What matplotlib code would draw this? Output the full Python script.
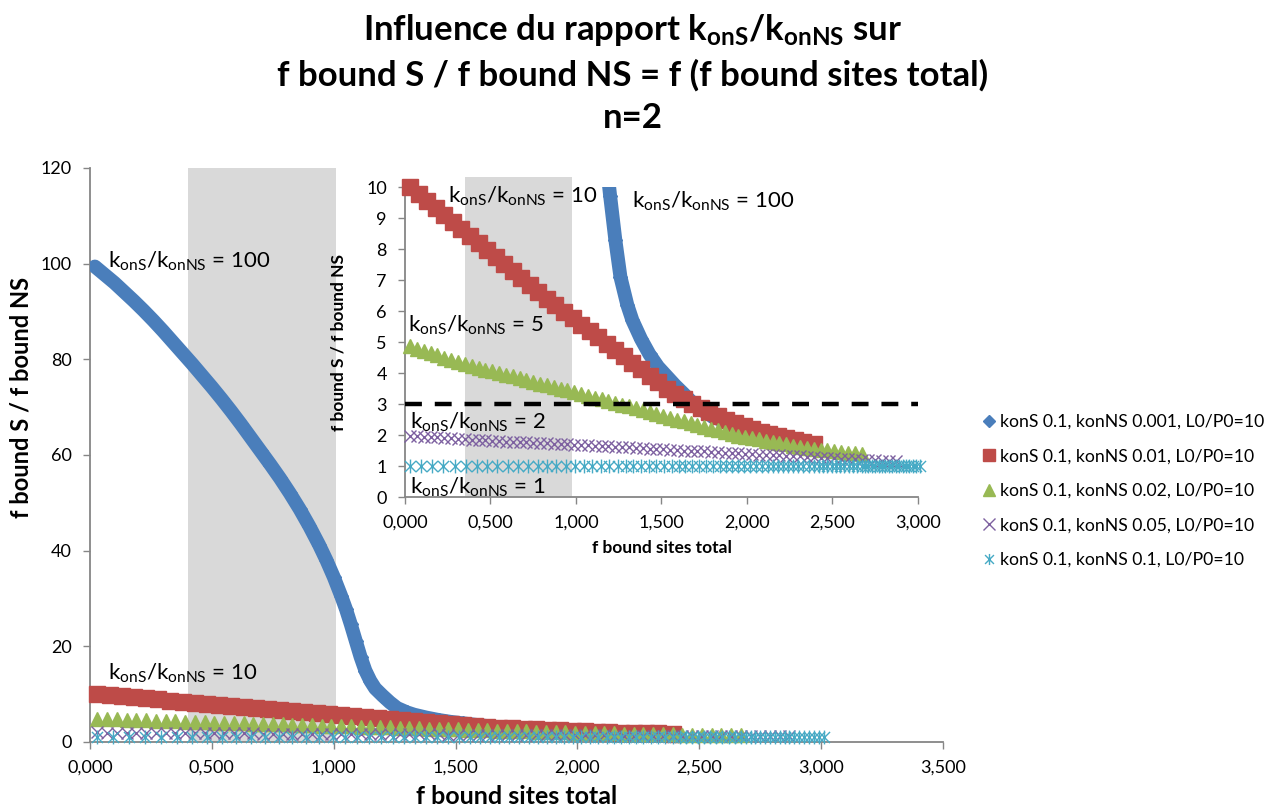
import matplotlib
matplotlib.use("Agg")
import matplotlib.pyplot as plt
from matplotlib.lines import Line2D
from matplotlib.patches import Rectangle
from matplotlib.path import Path
from matplotlib.ticker import FuncFormatter

plt.rcParams['font.family'] = ['Lato', 'DejaVu Sans']
plt.rcParams['mathtext.fontset'] = 'custom'
plt.rcParams['mathtext.rm'] = 'Lato'
plt.rcParams['mathtext.it'] = 'Lato:italic'
plt.rcParams['mathtext.bf'] = 'Lato:bold'

# ---- data ----
blue_x = [0.02, 0.06, 0.10, 0.14, 0.18, 0.22, 0.26, 0.30, 0.34, 0.38, 0.42, 0.46, 0.50, 0.54,
          0.58, 0.62, 0.66, 0.70, 0.74, 0.78, 0.82, 0.86, 0.90, 0.94, 0.97, 1.00, 1.03, 1.05,
          1.07, 1.09, 1.11, 1.13, 1.15, 1.17, 1.20, 1.23, 1.26, 1.30, 1.33, 1.38, 1.43, 1.48,
          1.53, 1.58, 1.63, 1.68, 1.72, 1.78, 1.85, 1.92, 2.00, 2.10, 2.20]
blue_y = [99.4, 97.7, 96.0, 94.1, 92.2, 90.2, 88.1, 85.9, 83.6, 81.3, 79.0, 76.6, 74.2, 71.7,
          69.1, 66.4, 63.6, 60.8, 58.0, 55.1, 52.0, 48.7, 45.1, 41.2, 38.0, 34.5, 30.6, 27.8,
          24.6, 21.2, 17.8, 14.9, 12.8, 11.2, 9.7, 8.3, 7.1, 6.2, 5.7, 5.1, 4.6, 4.2,
          3.9, 3.6, 3.33, 3.05, 2.85, 2.66, 2.47, 2.31, 2.16, 2.00, 1.87]

red_x = [0.03, 0.08, 0.13, 0.18, 0.23, 0.28, 0.33, 0.38, 0.43, 0.48, 0.53, 0.58, 0.63, 0.68,
         0.73, 0.78, 0.83, 0.88, 0.93, 0.98, 1.03, 1.08, 1.13, 1.18, 1.23, 1.28, 1.33, 1.38,
         1.43, 1.48, 1.53, 1.58, 1.63, 1.68, 1.73, 1.78, 1.83, 1.88, 1.93, 1.98, 2.03, 2.08,
         2.13, 2.18, 2.23, 2.28, 2.33, 2.39]
red_y = [10.0, 9.78, 9.55, 9.33, 9.10, 8.88, 8.65, 8.42, 8.20, 7.97, 7.75, 7.52, 7.30, 7.07,
         6.85, 6.62, 6.40, 6.18, 5.97, 5.76, 5.55, 5.35, 5.15, 4.95, 4.75, 4.55, 4.33, 4.12,
         3.90, 3.70, 3.50, 3.32, 3.15, 3.00, 2.87, 2.74, 2.62, 2.50, 2.40, 2.30, 2.20, 2.11,
         2.03, 1.96, 1.89, 1.83, 1.77, 1.70]

green_x = [0.03, 0.07, 0.11, 0.15, 0.19, 0.23, 0.27, 0.31, 0.35, 0.39, 0.43, 0.47, 0.51, 0.55,
           0.59, 0.63, 0.67, 0.71, 0.75, 0.79, 0.83, 0.87, 0.91, 0.95, 0.99, 1.03, 1.07, 1.11,
           1.15, 1.19, 1.23, 1.27, 1.31, 1.35, 1.39, 1.43, 1.47, 1.51, 1.55, 1.59, 1.63, 1.67,
           1.71, 1.75, 1.79, 1.83, 1.87, 1.91, 1.95, 1.99, 2.03, 2.07, 2.11, 2.15, 2.19, 2.23,
           2.27, 2.31, 2.35, 2.39, 2.43, 2.47, 2.51, 2.55, 2.59, 2.63, 2.67]
green_y = [4.86, 4.79, 4.71, 4.64, 4.57, 4.50, 4.42, 4.35, 4.28, 4.22, 4.17, 4.11, 4.06, 4.00,
           3.94, 3.89, 3.83, 3.78, 3.72, 3.66, 3.61, 3.55, 3.50, 3.44, 3.39, 3.33, 3.27, 3.21,
           3.15, 3.09, 3.04, 2.98, 2.92, 2.86, 2.80, 2.74, 2.68, 2.62, 2.56, 2.50, 2.45, 2.39,
           2.33, 2.27, 2.21, 2.15, 2.09, 2.03, 1.98, 1.94, 1.90, 1.86, 1.82, 1.78, 1.74, 1.70,
           1.66, 1.62, 1.58, 1.56, 1.53, 1.51, 1.48, 1.46, 1.43, 1.41, 1.38]

purple_x = [0.03, 0.07, 0.11, 0.15, 0.19, 0.23, 0.27, 0.31, 0.35, 0.39, 0.43, 0.47, 0.51, 0.55,
            0.59, 0.63, 0.67, 0.71, 0.75, 0.79, 0.83, 0.87, 0.91, 0.95, 0.99, 1.03, 1.07, 1.11,
            1.15, 1.19, 1.23, 1.27, 1.31, 1.35, 1.39, 1.43, 1.47, 1.51, 1.55, 1.59, 1.63, 1.67,
            1.71, 1.75, 1.79, 1.83, 1.87, 1.91, 1.95, 1.99, 2.03, 2.07, 2.11, 2.15, 2.19, 2.23,
            2.27, 2.31, 2.35, 2.39, 2.43, 2.47, 2.51, 2.55, 2.59, 2.63, 2.67, 2.71, 2.75, 2.79,
            2.83, 2.87]
purple_y = [1.98, 1.96, 1.95, 1.93, 1.92, 1.90, 1.89, 1.87, 1.86, 1.85, 1.84, 1.83, 1.82, 1.81,
            1.79, 1.78, 1.77, 1.76, 1.75, 1.74, 1.73, 1.72, 1.71, 1.70, 1.69, 1.68, 1.67, 1.65,
            1.64, 1.63, 1.62, 1.61, 1.60, 1.58, 1.57, 1.56, 1.55, 1.54, 1.53, 1.51, 1.50, 1.49,
            1.48, 1.47, 1.46, 1.44, 1.43, 1.42, 1.41, 1.40, 1.38, 1.37, 1.36, 1.35, 1.34, 1.33,
            1.32, 1.31, 1.29, 1.28, 1.27, 1.26, 1.25, 1.24, 1.23, 1.22, 1.20, 1.19, 1.18, 1.17,
            1.16, 1.15]

cyan_x = [0.03, 0.095, 0.16, 0.225, 0.29, 0.355, 0.42, 0.48, 0.54, 0.60, 0.66, 0.72, 0.775,
          0.83, 0.885, 0.94, 0.995, 1.045, 1.095, 1.145, 1.195, 1.245, 1.29, 1.335, 1.38,
          1.425, 1.47, 1.515, 1.56, 1.60, 1.64, 1.68, 1.72, 1.76, 1.80, 1.84, 1.875, 1.91,
          1.945, 1.98, 2.015, 2.05, 2.085, 2.12, 2.15, 2.18, 2.21, 2.24, 2.27, 2.30, 2.33,
          2.36, 2.39, 2.42, 2.445, 2.47, 2.495, 2.52, 2.545, 2.57, 2.595, 2.62, 2.645, 2.67,
          2.69, 2.71, 2.73, 2.75, 2.77, 2.79, 2.81, 2.83, 2.85, 2.87, 2.89, 2.91, 2.93, 2.95,
          2.97, 2.99, 3.01]
cyan_y = [1.0, 1.0, 1.0, 1.0, 1.0, 1.0, 1.0, 1.0, 1.0, 1.0, 1.0, 1.0, 1.0,
          1.0, 1.0, 1.0, 1.0, 1.0, 1.0, 1.0, 1.0, 1.0, 1.0, 1.0, 1.0,
          1.0, 1.0, 1.0, 1.0, 1.0, 1.0, 1.0, 1.0, 1.0, 1.0, 1.0, 1.0, 1.0,
          1.0, 1.0, 1.0, 1.0, 1.0, 1.0, 1.0, 1.0, 1.0, 1.0, 1.0, 1.0, 1.0,
          1.0, 1.0, 1.0, 1.0, 1.0, 1.0, 1.0, 1.0, 1.0, 1.0, 1.0, 1.0, 1.0,
          1.0, 1.0, 1.0, 1.0, 1.0, 1.0, 1.0, 1.0, 1.0, 1.0, 1.0, 1.0, 1.0, 1.0,
          1.0, 1.0, 1.0]

labels = ['konS 0.1, konNS 0.001, L0/P0=10', 'konS 0.1, konNS 0.01, L0/P0=10',
          'konS 0.1, konNS 0.02, L0/P0=10', 'konS 0.1, konNS 0.05, L0/P0=10',
          'konS 0.1, konNS 0.1, L0/P0=10']
ratio_text = r'$\mathrm{k_{onS}/k_{onNS}}$ = '
threshold = 3
band_main = (0.402, 1.01)
band_inset = (0.35, 0.977)

# ---- styles ----
c_blue, c_red, c_green, c_purple, c_cyan = '#4A7EBB', '#BE4B48', '#98B954', '#7D60A0', '#46AAC5'
grey_axis = '#868686'
star = Path([(-1, -1), (1, 1), (-1, 1), (1, -1), (0, -1.25), (0, 1.25)],
            [Path.MOVETO, Path.LINETO, Path.MOVETO, Path.LINETO, Path.MOVETO, Path.LINETO])

fmt3 = FuncFormatter(lambda v, p: ('%.3f' % v).replace('.', ','))


def draw_series(ax):
    ax.plot(blue_x, blue_y, color=c_blue, lw=10, solid_capstyle='round',
            solid_joinstyle='round', marker='D', ms=7, mec=c_blue, mfc=c_blue,
            clip_on=True, zorder=3)
    ax.plot(red_x, red_y, color=c_red, lw=8, solid_joinstyle='round', marker='s', ms=11,
            mec=c_red, mfc=c_red, clip_on=False, zorder=3)
    ax.plot(green_x, green_y, ls='None', marker='^', ms=10, mec=c_green, mfc=c_green,
            clip_on=False, zorder=3)
    ax.plot(purple_x, purple_y, ls='None', marker='x', ms=9, mew=1.0, color=c_purple,
            clip_on=False, zorder=3)
    ax.plot(cyan_x, cyan_y, ls='None', marker=star, ms=10, mew=1.0, color=c_cyan,
            mfc='none', clip_on=False, zorder=3)


def style_axes(ax, size):
    for s in ['top', 'right']:
        ax.spines[s].set_visible(False)
    for s in ['left', 'bottom']:
        ax.spines[s].set_color(grey_axis)
        ax.spines[s].set_linewidth(1.3)
    ax.tick_params(direction='out', length=5, color=grey_axis, width=1, labelsize=size,
                   labelcolor='black', pad=8)
    ax.xaxis.set_major_formatter(fmt3)


fig = plt.figure(figsize=(12.66, 8.10), dpi=100)

# main chart
ax = fig.add_axes([0.0711, 0.0840, 0.6738, 0.7086])
ax.axvspan(band_main[0], band_main[1], color='#D9D9D9', lw=0, zorder=0)
draw_series(ax)
ax.set_xlim(0, 3.5)
ax.set_ylim(0, 120)
ax.set_xticks([0, 0.5, 1.0, 1.5, 2.0, 2.5, 3.0, 3.5])
ax.set_yticks([0, 20, 40, 60, 80, 100, 120])
style_axes(ax, 13)
ax.set_xlabel('f bound sites total', fontsize=18, fontweight='bold')
ax.xaxis.set_label_coords(0.5, -0.075)
ax.set_ylabel('f bound S / f bound NS', fontsize=17, fontweight='bold')
ax.yaxis.set_label_coords(-0.067, 0.60)
ax.text(0.074, 99.2, ratio_text + '100', fontsize=16, va='baseline', zorder=5)
ax.text(0.074, 13.0, ratio_text + '10', fontsize=16, va='baseline', zorder=5)

# inset
ins = fig.add_axes([0.3199, 0.3864, 0.4052, 0.3827])
ins.patch.set_alpha(0)
ins.add_patch(Rectangle((band_inset[0], 0), band_inset[1] - band_inset[0], 10.33,
                        color='#D9D9D9', lw=0, zorder=0, clip_on=False))
draw_series(ins)
ins.plot([0, 3.0], [threshold, threshold], color='black', lw=3.2, ls=(0, (3.8, 2.9)),
         zorder=4, solid_capstyle='butt')
ins.set_xlim(0, 3.0)
ins.set_ylim(0, 10)
ins.set_xticks([0, 0.5, 1.0, 1.5, 2.0, 2.5, 3.0])
ins.set_yticks(range(0, 11))
style_axes(ins, 13)
ins.set_xlabel('f bound sites total', fontsize=12.5, fontweight='bold')
ins.xaxis.set_label_coords(0.5, -0.14)
ins.set_ylabel('f bound S / f bound NS', fontsize=12.5, fontweight='bold')
ins.yaxis.set_label_coords(-0.115, 0.5)
ins.text(0.25, 9.48, ratio_text + '10', fontsize=16, va='baseline', zorder=5)
ins.text(1.33, 9.32, ratio_text + '100', fontsize=16, va='baseline', zorder=5)
ins.text(0.02, 5.32, ratio_text + '5', fontsize=16, va='baseline', zorder=5)
ins.text(0.03, 2.19, ratio_text + '2', fontsize=16, va='baseline', zorder=5)
ins.text(0.03, 0.10, ratio_text + '1', fontsize=16, va='baseline', zorder=5)

# title
fig.text(0.5, 1 - 30 / 810, r'Influence du rapport $\mathbf{k_{onS}/k_{onNS}}$ sur',
         ha='center', va='center', fontsize=25, fontweight='bold')
fig.text(0.5, 1 - 75 / 810, 'f bound S / f bound NS = f (f bound sites total)',
         ha='center', va='center', fontsize=25, fontweight='bold')
fig.text(0.5, 1 - 118 / 810, 'n=2', ha='center', va='center', fontsize=25, fontweight='bold')

# legend
handles = [
    Line2D([], [], ls='None', marker='D', ms=6, color=c_blue),
    Line2D([], [], ls='None', marker='s', ms=8, color=c_red),
    Line2D([], [], ls='None', marker='^', ms=8, color=c_green),
    Line2D([], [], ls='None', marker='x', ms=8, mew=1.0, color=c_purple),
    Line2D([], [], ls='None', marker=star, ms=8, mew=1.0, color=c_cyan),
]
fig.legend(handles, labels, loc='center left', bbox_to_anchor=(0.770, 0.394), frameon=False,
           fontsize=12.7, handlelength=0.8, handletextpad=0.2, labelspacing=1.05,
           borderaxespad=0)

fig.savefig('out.png', dpi=100)
